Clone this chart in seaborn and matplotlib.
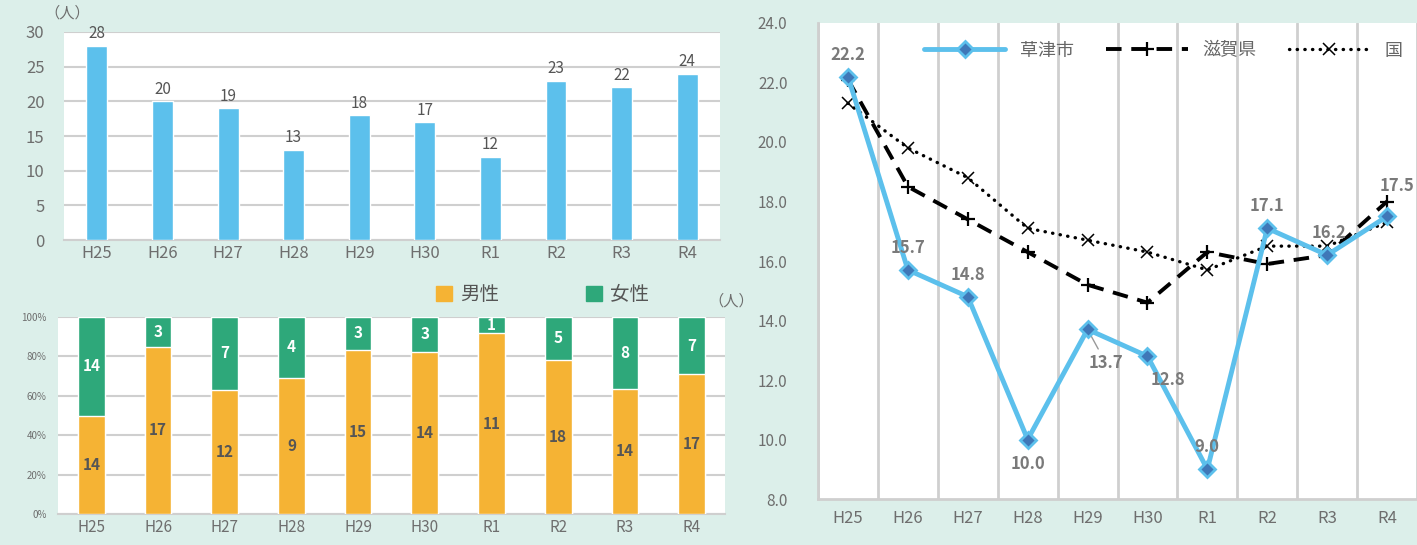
import numpy as np
import pandas as pd
import matplotlib
matplotlib.use('Agg')
import matplotlib.pyplot as plt
import seaborn as sns

# --- datos ---
nendo = ['H25', 'H26', 'H27', 'H28', 'H29', 'H30', 'R1', 'R2', 'R3', 'R4']
total = [28, 20, 19, 13, 18, 17, 12, 23, 22, 24]
dansei = [14, 17, 12, 9, 15, 14, 11, 18, 14, 17]
josei = [14, 3, 7, 4, 3, 3, 1, 5, 8, 7]

kusatsu = [22.2, 15.7, 14.8, 10.0, 13.7, 12.8, 9.0, 17.1, 16.2, 17.5]
shiga = [22.1, 18.5, 17.4, 16.3, 15.2, 14.6, 16.3, 15.9, 16.2, 18.0]
kuni = [21.3, 19.8, 18.8, 17.1, 16.7, 16.3, 15.7, 16.5, 16.5, 17.3]

sns.set_theme(style='white')
plt.rcParams['font.family'] = ['Noto Sans CJK JP', 'DejaVu Sans']

BG = '#dcefea'
AZUL = '#5cc0ec'
NARANJA = '#f5b334'
VERDE = '#2ea87a'
GRIS = '#6e6e6e'
GRID = '#cfcfcf'

fig = plt.figure(figsize=(14.17, 5.45), dpi=100)
fig.patch.set_facecolor(BG)

# --- grafica de barras (total) ---
ax1 = fig.add_axes([0.0452, 0.5596, 0.4629, 0.3817])
df1 = pd.DataFrame({'nendo': nendo, 'total': total})
sns.barplot(data=df1, x='nendo', y='total', color=AZUL, width=0.32,
            saturation=1, ax=ax1, zorder=3)
ax1.set_ylim(0, 30)
ax1.set_xlim(-0.5, 9.5)
ax1.set_yticks(range(0, 31, 5))
ax1.yaxis.grid(True, color=GRID, linewidth=1.5, zorder=0)
for s in ['top', 'right', 'left']:
    ax1.spines[s].set_visible(False)
ax1.spines['bottom'].set_color(GRID)
ax1.spines['bottom'].set_linewidth(1.5)
ax1.set_xlabel('')
ax1.set_ylabel('')
ax1.tick_params(axis='both', colors=GRIS, labelsize=12, length=0)
ax1.tick_params(axis='y', pad=14)
for i, v in enumerate(total):
    ax1.text(i, v + 0.5, str(v), ha='center', va='bottom', fontsize=11, color='#555555')
ax1.text(-0.03, 1.05, '（人）', transform=ax1.transAxes, fontsize=11, color=GRIS,
         ha='left', va='bottom')

# --- grafica 100% apilada (hombres/mujeres) ---
ax2 = fig.add_axes([0.0409, 0.0569, 0.4707, 0.3614])
pct_m = [m / (m + f) * 100 for m, f in zip(dansei, josei)]
df2 = pd.DataFrame({'nendo': nendo, 'todo': [100] * len(nendo), 'm': pct_m})
sns.barplot(data=df2, x='nendo', y='todo', color=VERDE, width=0.4,
            saturation=1, ax=ax2, zorder=3)
sns.barplot(data=df2, x='nendo', y='m', color=NARANJA, width=0.4,
            saturation=1, ax=ax2, zorder=4)
ax2.set_ylim(0, 100)
ax2.set_xlim(-0.5, 9.5)
ax2.set_yticks(range(0, 101, 20))
ax2.set_yticklabels([f'{t}%' for t in range(0, 101, 20)])
ax2.yaxis.grid(True, color=GRID, linewidth=1.5, zorder=0)
for s in ['top', 'right', 'left']:
    ax2.spines[s].set_visible(False)
ax2.spines['bottom'].set_color(GRID)
ax2.spines['bottom'].set_linewidth(1.5)
ax2.set_xlabel('')
ax2.set_ylabel('')
ax2.tick_params(axis='x', colors=GRIS, labelsize=11, length=0)
ax2.tick_params(axis='y', colors=GRIS, labelsize=7, length=0, pad=8)
for i, (m, f, p) in enumerate(zip(dansei, josei, pct_m)):
    ax2.text(i, p / 2, str(m), ha='center', va='center', fontsize=11,
             color='#555555', fontweight='bold', zorder=5)
    ax2.text(i, p + (100 - p) / 2, str(f), ha='center', va='center', fontsize=11,
             color='white', fontweight='bold', zorder=5)
ax2.legend(handles=[plt.Rectangle((0, 0), 1, 1, color=NARANJA),
                    plt.Rectangle((0, 0), 1, 1, color=VERDE)],
           labels=['男性', '女性'], ncol=2, frameon=False, loc='lower left',
           bbox_to_anchor=(0.55, 1.0), handlelength=0.8, handleheight=0.8,
           handletextpad=0.4, columnspacing=4.5, fontsize=14,
           labelcolor='#555555', borderaxespad=0.2)
ax2.text(0.975, 1.04, '（人）', transform=ax2.transAxes, fontsize=11, color=GRIS,
         ha='left', va='bottom')

# --- grafica de lineas ---
ax3 = fig.add_axes([0.5773, 0.0844, 0.4227, 0.8734])
ax3.set_facecolor('white')
x = np.arange(len(nendo))
sns.lineplot(x=x, y=kusatsu, ax=ax3, color=AZUL, linewidth=3.5, marker='D',
             markersize=8, markerfacecolor='#3f78b8', markeredgecolor=AZUL,
             markeredgewidth=2, label='草津市', zorder=5)
sns.lineplot(x=x, y=shiga, ax=ax3, color='black', linewidth=2.8, marker='+',
             markersize=10, markeredgewidth=1.6, markeredgecolor='black',
             label='滋賀県', zorder=4)
sns.lineplot(x=x, y=kuni, ax=ax3, color='black', linewidth=2.4, marker='x',
             markersize=9, markeredgewidth=1.1, markeredgecolor='black',
             label='国', zorder=4)
ax3.lines[1].set_dashes((4, 2.5))
ax3.lines[2].set_linestyle((0, (0.1, 2.2)))
ax3.lines[2].set_dash_capstyle('round')
ax3.set_ylim(8, 24)
ax3.set_xlim(-0.5, 9.5)
ax3.set_yticks(np.arange(8, 24.1, 2))
ax3.set_yticklabels([f'{t:.1f}' for t in np.arange(8, 24.1, 2)])
ax3.set_xticks(x)
ax3.set_xticklabels(nendo)
ax3.set_xticks(np.arange(-0.5, 10, 1), minor=True)
ax3.xaxis.grid(True, which='minor', color=GRID, linewidth=2, zorder=0)
ax3.xaxis.grid(False, which='major')
for s in ['top', 'right']:
    ax3.spines[s].set_visible(False)
for s in ['left', 'bottom']:
    ax3.spines[s].set_color(GRID)
    ax3.spines[s].set_linewidth(2)
ax3.tick_params(axis='both', which='both', colors=GRIS, length=0)
ax3.tick_params(axis='x', labelsize=12, pad=8)
ax3.tick_params(axis='y', labelsize=11, pad=22)

desp = [(0, 22), (0, 22), (0, 22), (0, -24), (18, -34), (20, -24), (0, 22),
        (0, 22), (2, 22), (10, 30)]
for i, (v, d) in enumerate(zip(kusatsu, desp)):
    ax3.annotate(f'{v:.1f}', (i, v), xytext=d, textcoords='offset pixels',
                 ha='center', va='center', fontsize=12, color='#7a7a7a',
                 fontweight='bold', zorder=6)
ax3.annotate('', (4, 13.7), xytext=(12, -22), textcoords='offset pixels',
             arrowprops=dict(arrowstyle='-', color='#999999', lw=1))

leg = ax3.legend(ncol=3, frameon=False, loc='upper left', bbox_to_anchor=(0.15, 0.995),
                 handlelength=4.5, columnspacing=1.8, fontsize=13, labelcolor='#666666')
leg.get_lines()[1].set_dashes((4, 2.5))
leg.get_lines()[2].set_linestyle((0, (0.1, 2.2)))
leg.get_lines()[2].set_dash_capstyle('round')

fig.savefig('out.png', dpi=100, facecolor=fig.get_facecolor())
